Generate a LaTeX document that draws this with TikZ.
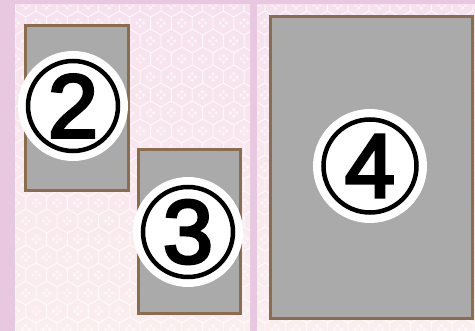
\documentclass[tikz,border=0pt]{standalone}
\usepackage{fontspec}
\newfontfamily\numfont[FakeBold=3.5]{Liberation Sans}
\definecolor{bgpink}{RGB}{232,200,224}
\definecolor{pagetop}{RGB}{246,226,238}
\definecolor{pagebot}{RGB}{251,238,238}
\definecolor{framegrey}{RGB}{170,170,170}
\definecolor{framebrown}{RGB}{138,108,78}
\tikzset{
  photoframe/.style={draw=framebrown, line width=3pt, fill=framegrey, inner sep=0pt, outer sep=0pt},
  badge/.style={circle, fill=white, minimum size=110pt, inner sep=0pt},
  ring/.style={circle, draw=black, line width=4.5pt, minimum size=90pt, inner sep=0pt,
    font=\numfont\fontsize{90}{90}\selectfont},
  hexline/.style={draw=white, line width=0.9pt, opacity=0.5},
  dot/.style={fill=white, opacity=0.55}
}
\begin{document}
\begin{tikzpicture}[x=1pt,y=-1pt]
\useasboundingbox (0,0) rectangle (475,331);
\fill[bgpink] (0,0) rectangle (475,331);
% pages
\shade[top color=pagetop, bottom color=pagebot] (15,5) rectangle (250,331);
\shade[top color=pagetop, bottom color=pagebot] (257,5) rectangle (475,331);
% hexagon pattern
\begin{scope}
\clip (15,5) rectangle (250,331) (257,5) rectangle (475,331);
\foreach \row in {0,...,19}{
  \foreach \col in {0,...,23}{
    \pgfmathsetmacro{\hx}{5+\col*20.8+mod(\row,2)*10.4}
    \pgfmathsetmacro{\hy}{5+\row*18}
    \path[hexline] (\hx,\hy) +(90:12) -- +(150:12) -- +(210:12) -- +(270:12) -- +(330:12) -- +(30:12) -- cycle;
    \fill[dot] (\hx,\hy) +(3.2,0) circle (1.9) +(-3.2,0) circle (1.9) +(0,3.2) circle (1.9) +(0,-3.2) circle (1.9);
  }
}
\end{scope}
% frames
\node[photoframe, minimum width=103pt, minimum height=165pt] (f2) at (77,108) {};
\node[photoframe, minimum width=102pt, minimum height=164pt] (f3) at (189.5,231.5) {};
\node[photoframe, minimum width=202pt, minimum height=302pt] (f4) at (371.5,167.5) {};
% badges
\node[badge] (b2) at (73,106) {};
\node[ring] (n2) at (73,106) {2};
\node[badge] (b3) at (188,232) {};
\node[ring] (n3) at (188,232) {3};
\node[badge, minimum size=114pt] (b4) at (370,166) {};
\node[ring, minimum size=93pt] (n4) at (370,166) {4};
\end{tikzpicture}
\end{document}
